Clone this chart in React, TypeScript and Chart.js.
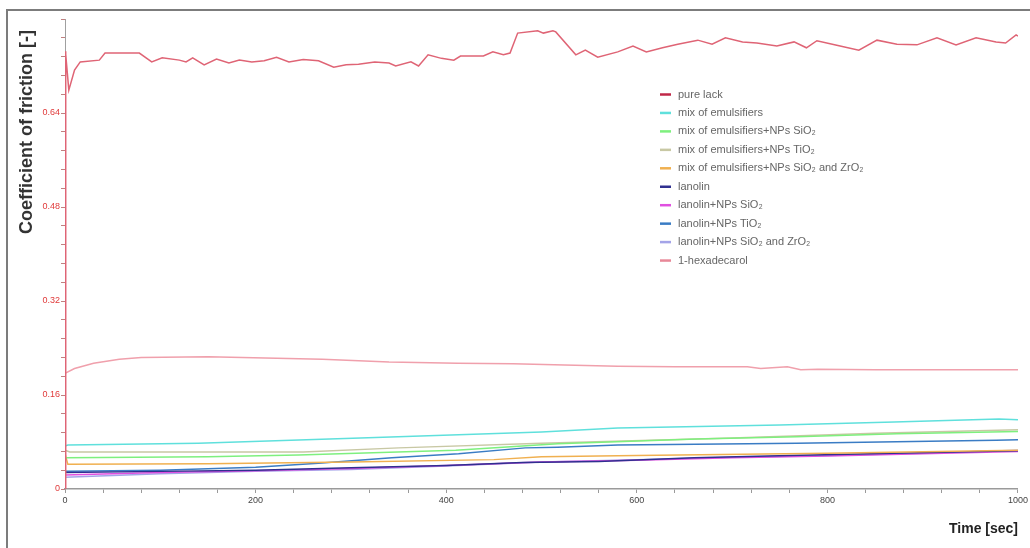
import React, { useEffect, useRef } from "react";
import { Chart, registerables } from "chart.js";

Chart.register(...registerables);

// ---- data ----
const SERIES_LABELS = [
  "pure lack",
  "mix of emulsifiers",
  "mix of emulsifiers+NPs SiO₂",
  "mix of emulsifiers+NPs TiO₂",
  "mix of emulsifiers+NPs SiO₂ and ZrO₂",
  "lanolin",
  "lanolin+NPs SiO₂",
  "lanolin+NPs TiO₂",
  "lanolin+NPs SiO₂ and ZrO₂",
  "1-hexadecarol",
];
const SERIES_COLORS = [
  "#df6475",
  "#5fe0dc",
  "#7ef07e",
  "#c8c8a4",
  "#f0b050",
  "#303090",
  "#e050e0",
  "#3a7cc4",
  "#a4a4e8",
  "#f0a0ac",
];
const LEGEND_COLORS = [
  "#c02848",
  "#5fe0dc",
  "#7ef07e",
  "#c8c8a4",
  "#f0b050",
  "#303090",
  "#e050e0",
  "#3a7cc4",
  "#a4a4e8",
  "#e88898",
];

const pureLackT = [0, 0.5, 1, 4, 10, 16, 36, 42, 78, 91, 102, 120, 127, 134, 146, 159, 172, 183, 196, 209, 222, 235, 250, 266, 282, 295, 308, 325, 340, 347, 363, 371, 381, 395, 408, 415, 439, 449, 460, 467, 475, 496, 502, 512, 515, 536, 546, 559, 580, 596, 610, 627, 643, 664, 679, 693, 711, 726, 747, 765, 778, 789, 811, 833, 852, 873, 894, 915, 935, 956, 977, 987, 998, 1000];
const pureLackV = [0, 0.745, 0.74, 0.679, 0.713, 0.727, 0.73, 0.742, 0.742, 0.727, 0.734, 0.73, 0.727, 0.734, 0.722, 0.732, 0.725, 0.73, 0.727, 0.729, 0.735, 0.727, 0.731, 0.729, 0.718, 0.722, 0.723, 0.727, 0.725, 0.72, 0.727, 0.72, 0.739, 0.733, 0.73, 0.737, 0.737, 0.744, 0.739, 0.742, 0.776, 0.78, 0.776, 0.78, 0.778, 0.739, 0.747, 0.735, 0.744, 0.754, 0.744, 0.751, 0.757, 0.764, 0.757, 0.768, 0.761, 0.759, 0.754, 0.761, 0.751, 0.763, 0.755, 0.747, 0.764, 0.757, 0.756, 0.768, 0.756, 0.768, 0.761, 0.759, 0.773, 0.771];

const emulsT = [0, 3, 140, 310, 500, 580, 750, 870, 980, 1000];
const emulsV = [0.073, 0.075, 0.078, 0.087, 0.097, 0.104, 0.109, 0.114, 0.119, 0.118];

const emulsSiT = [0, 150, 245, 410, 517, 663, 768, 873, 1000];
const emulsSiV = [0.053, 0.055, 0.058, 0.066, 0.077, 0.085, 0.089, 0.094, 0.098];

const emulsTiT = [0, 5, 250, 350, 500, 700, 850, 1000];
const emulsTiV = [0.066, 0.063, 0.063, 0.07, 0.078, 0.087, 0.095, 0.101];

const emulsSiZrT = [0, 3, 150, 300, 450, 500, 600, 800, 1000];
const emulsSiZrV = [0.06, 0.042, 0.043, 0.046, 0.05, 0.055, 0.057, 0.061, 0.066];

const lanolinT = [0, 100, 200, 300, 400, 480, 560, 660, 760, 870, 1000];
const lanolinV = [0.028, 0.03, 0.032, 0.036, 0.04, 0.045, 0.047, 0.053, 0.057, 0.061, 0.065];

const lanSiT = [0, 100, 200, 300, 400, 500, 600, 700, 800, 900, 1000];
const lanSiV = [0.024, 0.028, 0.031, 0.035, 0.04, 0.046, 0.049, 0.053, 0.056, 0.06, 0.064];

const lanTiT = [0, 100, 200, 266, 343, 413, 483, 517, 580, 716, 768, 977, 1000];
const lanTiV = [0.03, 0.032, 0.037, 0.044, 0.053, 0.06, 0.07, 0.071, 0.075, 0.077, 0.078, 0.083, 0.084];

const lanSiZrT = [0, 100, 200, 300, 400, 500, 600, 700, 800, 900, 1000];
const lanSiZrV = [0.02, 0.026, 0.03, 0.033, 0.039, 0.046, 0.05, 0.054, 0.057, 0.061, 0.066];

const hexT = [0, 10, 30, 57, 80, 150, 210, 270, 340, 412, 470, 524, 580, 640, 716, 730, 758, 772, 790, 850, 1000];
const hexV = [0.197, 0.205, 0.214, 0.221, 0.224, 0.225, 0.223, 0.221, 0.216, 0.214, 0.213, 0.211, 0.209, 0.208, 0.208, 0.205, 0.208, 0.203, 0.204, 0.203, 0.203];

const SERIES_T = [pureLackT, emulsT, emulsSiT, emulsTiT, emulsSiZrT, lanolinT, lanSiT, lanTiT, lanSiZrT, hexT];
const SERIES_V = [pureLackV, emulsV, emulsSiV, emulsTiV, emulsSiZrV, lanolinV, lanSiV, lanTiV, lanSiZrV, hexV];

const X_MIN = 0;
const X_MAX = 1000;
const X_STEP = 40;
const X_LABEL_STEP = 200;
const Y_MIN = 0;
const Y_MAX = 0.8;
const Y_STEP = 0.032;
const Y_LABEL_STEP = 0.16;

const Y_TITLE = "Coefficient of friction [-]";
const X_TITLE = "Time [sec]";

const FONT = '"Liberation Sans", Arial, sans-serif';

const isMultiple = (v: number, s: number) => Math.abs(v / s - Math.round(v / s)) < 1e-6;

export default function App() {
  const ref = useRef<HTMLCanvasElement | null>(null);

  useEffect(() => {
    document.body.style.margin = "0";
    const canvas = ref.current;
    if (!canvas) return;

    const framePlugin = {
      id: "frame",
      beforeDraw(chart: any) {
        const ctx = chart.ctx;
        ctx.save();
        ctx.fillStyle = "#ffffff";
        ctx.fillRect(0, 0, chart.width, chart.height);
        ctx.strokeStyle = "#7c7c7c";
        ctx.lineWidth = 2;
        ctx.beginPath();
        ctx.moveTo(7, chart.height);
        ctx.lineTo(7, 10);
        ctx.lineTo(chart.width, 10);
        ctx.stroke();
        ctx.restore();
      },
      afterDraw(chart: any) {
        const ctx = chart.ctx;
        ctx.save();
        // y axis title
        ctx.font = `bold 18px ${FONT}`;
        ctx.fillStyle = "#333333";
        ctx.translate(27, 30);
        ctx.rotate(-Math.PI / 2);
        ctx.textAlign = "right";
        ctx.textBaseline = "middle";
        ctx.fillText(Y_TITLE, 0, 0);
        ctx.restore();

        // legend
        ctx.save();
        const x0 = 660;
        const y0 = 94.5;
        const dy = 18.45;
        ctx.font = `11px ${FONT}`;
        ctx.textBaseline = "middle";
        ctx.textAlign = "left";
        SERIES_LABELS.forEach((label, i) => {
          const y = y0 + i * dy;
          ctx.strokeStyle = LEGEND_COLORS[i];
          ctx.lineWidth = 2.5;
          ctx.beginPath();
          ctx.moveTo(x0, y);
          ctx.lineTo(x0 + 11, y);
          ctx.stroke();
          ctx.fillStyle = "#666666";
          ctx.fillText(label, x0 + 18, y);
        });
        ctx.restore();
      },
    };

    const datasets = SERIES_LABELS.map((label, i) => ({
      label,
      data: SERIES_T[i].map((t, j) => ({ x: t, y: SERIES_V[i][j] })),
      borderColor: SERIES_COLORS[i],
      backgroundColor: SERIES_COLORS[i],
      borderWidth: i === 0 ? 1.5 : 1.5,
      pointRadius: 0,
      tension: 0,
      fill: false,
    }));

    const chart = new Chart(canvas, {
      type: "line",
      data: { datasets: datasets as any },
      plugins: [framePlugin],
      options: {
        animation: false,
        responsive: false,
        events: [],
        layout: { padding: { left: 0, top: 19, right: 8, bottom: 0 }, autoPadding: false } as any,
        plugins: {
          legend: { display: false },
          tooltip: { enabled: false },
        },
        scales: {
          x: {
            type: "linear",
            min: X_MIN,
            max: X_MAX,
            border: { color: "#9a9a9a", width: 1.5 },
            grid: { drawOnChartArea: false, tickLength: 4, color: "#9a9a9a" },
            ticks: {
              stepSize: X_STEP,
              autoSkip: false,
              maxRotation: 0,
              padding: 2,
              color: "#444444",
              font: { family: FONT, size: 9 },
              callback: (v: any) => (isMultiple(Number(v), X_LABEL_STEP) ? String(Math.round(Number(v))) : ""),
            },
            title: {
              display: true,
              text: X_TITLE,
              align: "end",
              color: "#222222",
              font: { family: FONT, size: 14, weight: "bold" },
              padding: { top: 0, bottom: 10 },
            },
            afterFit: (scale: any) => {
              scale.height = 59;
            },
          },
          y: {
            type: "linear",
            min: Y_MIN,
            max: Y_MAX,
            border: { color: "#a0a0a0", width: 1 },
            grid: { drawOnChartArea: false, tickLength: 4, color: "#c08080" },
            ticks: {
              stepSize: Y_STEP,
              autoSkip: false,
              padding: 1,
              color: "#e03a3a",
              font: { family: FONT, size: 9 },
              callback: (v: any) => {
                const n = Number(v);
                if (n > Y_MAX - 1e-6) return "";
                return isMultiple(n, Y_LABEL_STEP) ? String(Number(n.toFixed(2))) : "";
              },
            },
            afterFit: (scale: any) => {
              scale.width = 65;
            },
          },
        },
      } as any,
    });

    return () => chart.destroy();
  }, []);

  return (
    <div style={{ width: 1030, height: 548 }}>
      <canvas ref={ref} width={1030} height={548} />
    </div>
  );
}
